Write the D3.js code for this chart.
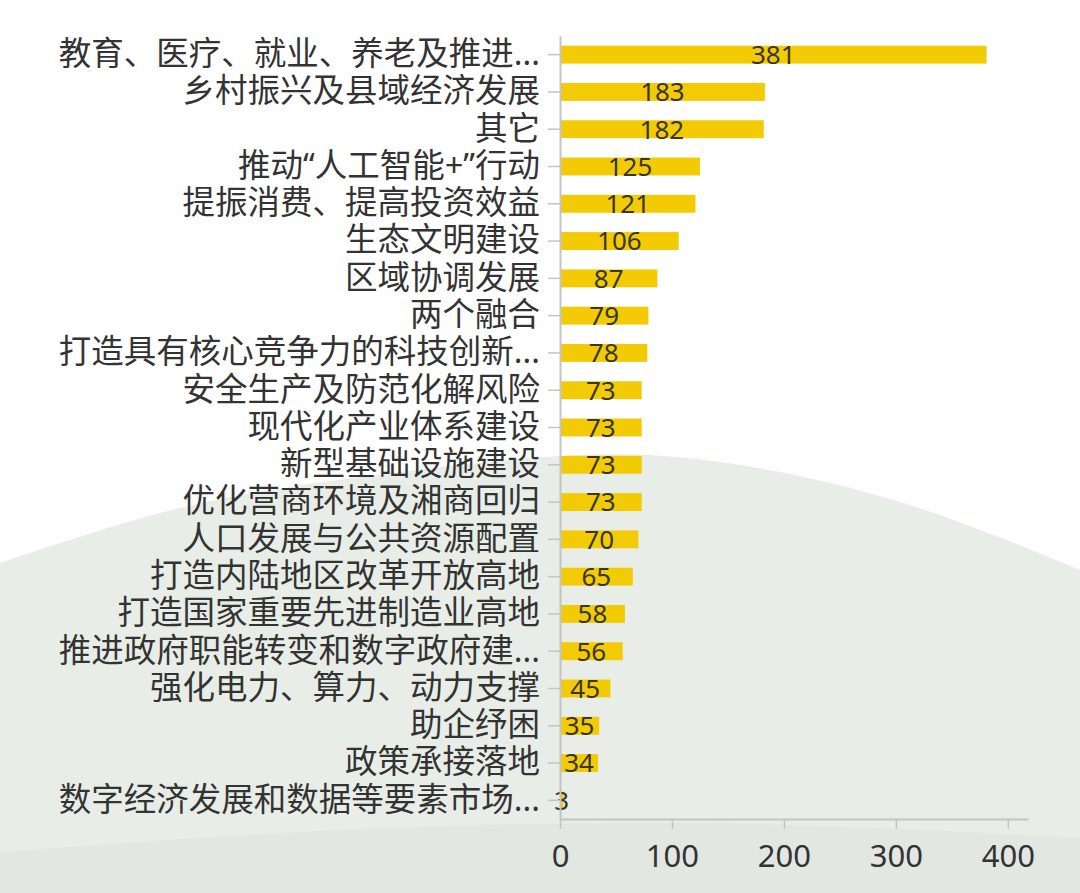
<!DOCTYPE html>
<html>
<head>
<meta charset="utf-8">
<script src="https://cdn.jsdelivr.net/npm/d3@7"></script>
<style>
  html, body { margin: 0; padding: 0; background: #ffffff; }
  svg { display: block; }
  text { font-family: "Noto Sans", "Noto Sans CJK SC", sans-serif; }
</style>
</head>
<body>
<svg id="chart" width="1080" height="893"></svg>
<script>
const categories = [
  "教育、医疗、就业、养老及推进...",
  "乡村振兴及县域经济发展",
  "其它",
  "推动“人工智能+”行动",
  "提振消费、提高投资效益",
  "生态文明建设",
  "区域协调发展",
  "两个融合",
  "打造具有核心竞争力的科技创新...",
  "安全生产及防范化解风险",
  "现代化产业体系建设",
  "新型基础设施建设",
  "优化营商环境及湘商回归",
  "人口发展与公共资源配置",
  "打造内陆地区改革开放高地",
  "打造国家重要先进制造业高地",
  "推进政府职能转变和数字政府建...",
  "强化电力、算力、动力支撑",
  "助企纾困",
  "政策承接落地",
  "数字经济发展和数据等要素市场..."
];
const values = [381, 183, 182, 125, 121, 106, 87, 79, 78, 73, 73, 73, 73, 70, 65, 58, 56, 45, 35, 34, 3];
const xTicks = [0, 100, 200, 300, 400];

const W = 1080, H = 893;
const svg = d3.select("#chart");

// Decorative background shapes
const bgLine = d3.line().curve(d3.curveNatural);
const upperEdge = [[0,563],[180,508],[360,477],[560,456],[720,462],[900,502],[1080,570]];
svg.append("path")
  .attr("d", bgLine(upperEdge) + `L${W},${H}L0,${H}Z`)
  .attr("fill", "#e9ede8");
const lowerEdge = [[0,852],[300,832],[600,823],[850,827],[1080,838]];
svg.append("path")
  .attr("d", bgLine(lowerEdge) + `L${W},${H}L0,${H}Z`)
  .attr("fill", "#e2e7e1");

const x0 = 560, axisY = 819;
const x = d3.scaleLinear().domain([0, 418]).range([x0, 1028]);
const y = d3.scaleBand().domain(categories).range([36, axisY]).paddingInner(0.52).paddingOuter(0.26);

// Bars
svg.append("g").selectAll("rect")
  .data(values)
  .join("rect")
  .attr("x", x(0))
  .attr("y", (d, i) => y(categories[i]))
  .attr("width", d => x(d) - x(0))
  .attr("height", y.bandwidth())
  .attr("fill", "#f2cb04");

// Value labels
svg.append("g").selectAll("text")
  .data(values)
  .join("text")
  .attr("x", d => (x(d) + x(0)) / 2)
  .attr("y", (d, i) => y(categories[i]) + y.bandwidth() / 2)
  .attr("dy", "0.36em")
  .attr("text-anchor", "middle")
  .attr("font-size", 26)
  .attr("fill", "#3a3526")
  .text(d => d);

// Y axis
const yAxis = svg.append("g")
  .attr("transform", `translate(${x0},0)`)
  .call(d3.axisLeft(y).tickSize(12).tickSizeOuter(0).tickPadding(8));
yAxis.select(".domain").attr("stroke", "#c4c4c4").attr("stroke-width", 2);
yAxis.selectAll(".tick line").attr("stroke", "#c4c4c4").attr("stroke-width", 1.5);
yAxis.selectAll(".tick text").attr("font-size", 32.5).attr("fill", "#333333")
  .style("font-family", '"Noto Sans", "Noto Sans CJK SC", sans-serif');

// X axis
const xAxis = svg.append("g")
  .attr("transform", `translate(0,${axisY})`)
  .call(d3.axisBottom(x).tickValues(xTicks).tickSize(10).tickSizeOuter(0).tickPadding(16));
xAxis.select(".domain").attr("stroke", "#c4c4c4").attr("stroke-width", 2);
xAxis.selectAll(".tick line").attr("stroke", "#c4c4c4").attr("stroke-width", 1.5);
xAxis.selectAll(".tick text").attr("font-size", 31).attr("fill", "#333333")
  .style("font-family", '"Noto Sans", "Noto Sans CJK SC", sans-serif');
</script>
</body>
</html>
